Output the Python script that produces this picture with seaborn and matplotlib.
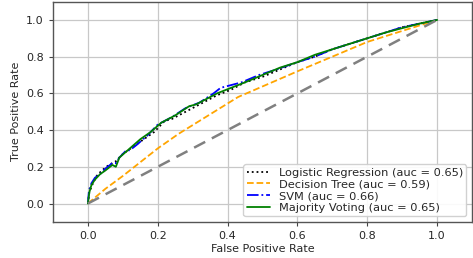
import matplotlib
matplotlib.use("Agg")
import matplotlib.pyplot as plt
import seaborn as sns

# ROC points
lr_fpr = [0.0, 0.004, 0.012, 0.025, 0.04, 0.06, 0.07, 0.08, 0.1, 0.13, 0.16, 0.19, 0.22, 0.24, 0.26, 0.29, 0.33, 0.37, 0.41, 0.45, 0.5, 0.55, 0.6, 0.65, 0.7, 0.75, 0.8, 0.85, 0.9, 0.95, 1.0]
lr_tpr = [0.0, 0.06, 0.1, 0.15, 0.18, 0.21, 0.22, 0.23, 0.27, 0.31, 0.35, 0.39, 0.45, 0.46, 0.48, 0.51, 0.55, 0.59, 0.62, 0.66, 0.69, 0.73, 0.77, 0.8, 0.84, 0.87, 0.9, 0.93, 0.96, 0.98, 1.0]

dt_fpr = [0.0, 0.05, 0.1, 0.2, 0.26, 0.43, 0.6, 0.8, 0.9, 1.0]
dt_tpr = [0.0, 0.08, 0.15, 0.3, 0.38, 0.58, 0.72, 0.88, 0.94, 1.0]

svm_fpr = [0.0, 0.003, 0.01, 0.02, 0.035, 0.05, 0.07, 0.08, 0.09, 0.11, 0.12, 0.14, 0.17, 0.2, 0.24, 0.28, 0.32, 0.36, 0.38, 0.4, 0.44, 0.49, 0.54, 0.6, 0.65, 0.7, 0.75, 0.8, 0.85, 0.9, 0.95, 1.0]
svm_tpr = [0.0, 0.07, 0.11, 0.14, 0.16, 0.19, 0.22, 0.22, 0.25, 0.29, 0.29, 0.32, 0.37, 0.43, 0.47, 0.52, 0.55, 0.6, 0.63, 0.64, 0.66, 0.7, 0.73, 0.77, 0.8, 0.84, 0.87, 0.9, 0.93, 0.96, 0.98, 1.0]

mv_fpr = [0.0, 0.004, 0.01, 0.02, 0.035, 0.05, 0.07, 0.08, 0.09, 0.12, 0.15, 0.18, 0.21, 0.25, 0.29, 0.31, 0.33, 0.37, 0.41, 0.45, 0.5, 0.55, 0.6, 0.65, 0.7, 0.75, 0.8, 0.85, 0.9, 0.95, 1.0]
mv_tpr = [0.0, 0.06, 0.1, 0.13, 0.16, 0.18, 0.21, 0.2, 0.25, 0.3, 0.35, 0.39, 0.44, 0.48, 0.53, 0.54, 0.56, 0.6, 0.63, 0.66, 0.7, 0.74, 0.77, 0.81, 0.84, 0.87, 0.9, 0.93, 0.955, 0.98, 1.0]

diag = [0.0, 1.0]

sns.set_style("whitegrid")
plt.rcParams["font.family"] = ["DejaVu Sans"]

fig = plt.figure(figsize=(4.73, 2.58), dpi=100)
ax = fig.add_axes([0.112, 0.14, 0.886, 0.854])

sns.lineplot(x=lr_fpr, y=lr_tpr, ax=ax, color="black", linestyle=":",
             linewidth=1.3, label="Logistic Regression (auc = 0.65)",
             estimator=None, sort=False)
sns.lineplot(x=dt_fpr, y=dt_tpr, ax=ax, color="orange", linestyle="--",
             linewidth=1.3, label="Decision Tree (auc = 0.59)",
             estimator=None, sort=False)
sns.lineplot(x=svm_fpr, y=svm_tpr, ax=ax, color="blue", linestyle="-.",
             linewidth=1.3, label="SVM (auc = 0.66)",
             estimator=None, sort=False)
sns.lineplot(x=mv_fpr, y=mv_tpr, ax=ax, color="green", linestyle="-",
             linewidth=1.3, label="Majority Voting (auc = 0.65)",
             estimator=None, sort=False)
ax.plot(diag, diag, linestyle=(0, (5, 3)), color="gray", linewidth=1.8)

ax.set_xlim(-0.1, 1.1)
ax.set_ylim(-0.1, 1.1)
ax.set_xticks([0.0, 0.2, 0.4, 0.6, 0.8, 1.0])
ax.set_yticks([0.0, 0.2, 0.4, 0.6, 0.8, 1.0])
ax.tick_params(labelsize=8, length=3, color="#444444", left=True, bottom=True)
ax.grid(color="#c8c8c8", linewidth=0.9)
for s in ax.spines.values():
    s.set_color("#555555")
    s.set_linewidth(1.0)

ax.set_xlabel("False Positive Rate", fontsize=8, labelpad=2)
ax.set_ylabel("True Positive Rate", fontsize=8, labelpad=4)

ax.legend(loc="lower right", fontsize=8.2, frameon=True, handlelength=2,
          borderpad=0.3, labelspacing=0.15, framealpha=0.9)

fig.savefig("out.png", dpi=100)
